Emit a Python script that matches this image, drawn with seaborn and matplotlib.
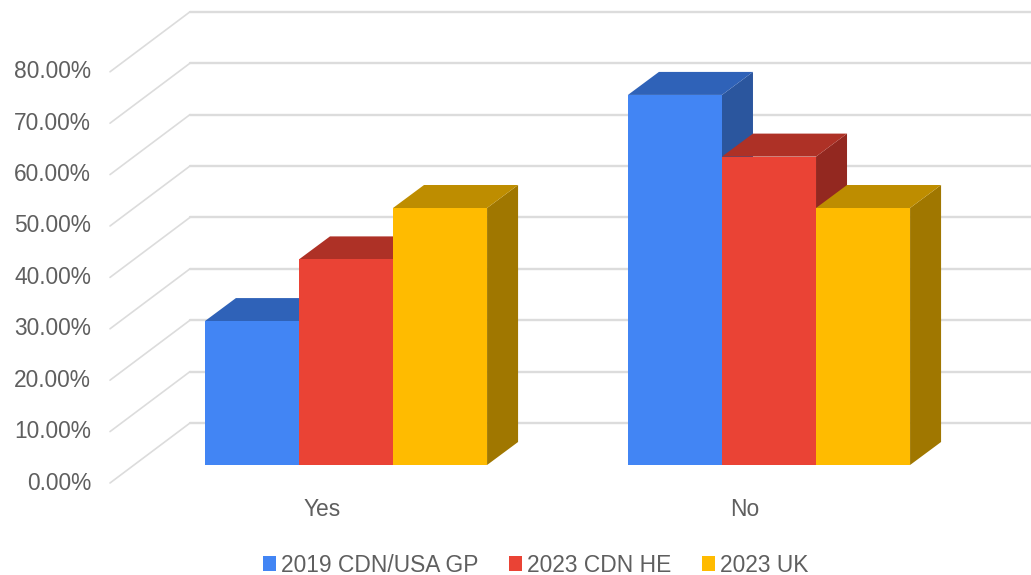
#!/usr/bin/env python3
"""
Yes/No survey bars with a fake 3D look
"""

import pandas as pd
import matplotlib
matplotlib.use('Agg')
import matplotlib.pyplot as plt
from matplotlib.patches import Polygon
import seaborn as sns

answers = ['Yes', 'No']
series_names = ['2019 CDN/USA GP', '2023 CDN HE', '2023 UK']
gp_2019 = [28, 72]
he_2023 = [40, 60]
uk_2023 = [50, 50]
tick_values = [0, 10, 20, 30, 40, 50, 60, 70, 80]

colors = ['#4285F4', '#EA4335', '#FFBB00']
top_colors = ['#2F62B8', '#AE3126', '#BE8D00']
side_colors = ['#2B569E', '#932820', '#A07700']
grid_color = '#DCDCDC'
text_color = '#5F5F5F'

# pixel layout of the picture
W, H = 1031, 575
PX_X = 423.0      # pixels per category
PX_Y = 5.14       # pixels per percent
X0 = 346.0        # centre of first group
Y0 = 465.0        # bar baseline
FONT = 16.4


def px_x(x):
    return (x - X0) / PX_X


def px_y(y):
    return (Y0 - y) / PX_Y


sns.set_theme(style='white')
plt.rcParams['font.family'] = ['Liberation Sans', 'DejaVu Sans']

df = pd.DataFrame({
    'answer': answers * 3,
    'series': [s for s in series_names for _ in answers],
    'value': gp_2019 + he_2023 + uk_2023,
})

fig = plt.figure(figsize=(W / 100, H / 100), dpi=100)
ax = fig.add_axes([0, 0, 1, 1])

sns.barplot(data=df, x='answer', y='value', hue='series', order=answers,
            hue_order=series_names, palette=colors, width=0.667, gap=0,
            saturation=1, linewidth=0, ax=ax, zorder=3)

ax.set_xlim(px_x(0), px_x(W))
ax.set_ylim(px_y(H), px_y(0))
ax.axis('off')

# wall and floor grid lines
wall_dy = px_y(423)
front_dy = px_y(483)
for v in tick_values:
    ax.plot([px_x(190), px_x(W)], [v + wall_dy, v + wall_dy],
            color=grid_color, lw=1.7, zorder=1)
    ax.plot([px_x(110), px_x(190)], [v + front_dy, v + wall_dy],
            color=grid_color, lw=1.2, zorder=1)
    ax.text(px_x(91), v + px_y(483), f'{v:.2f}%', ha='right', va='center',
            fontsize=FONT, color=text_color)

# depth faces, later series lie over the side of the one before
dx = 31 / PX_X
dy = 23 / PX_Y
bars = [p for p in ax.patches if p.get_height() > 0]
for i, bar in enumerate(bars):
    idx = i // len(answers)
    x1 = bar.get_x()
    x2 = x1 + bar.get_width()
    top = bar.get_height()
    ax.add_patch(Polygon([(x2, 0), (x2 + dx, dy), (x2 + dx, top + dy), (x2, top)],
                         closed=True, fc=side_colors[idx], lw=0, zorder=2 + idx * 0.1))
    ax.add_patch(Polygon([(x1, top), (x1 + dx, top + dy), (x2 + dx, top + dy), (x2, top)],
                         closed=True, fc=top_colors[idx], lw=0, zorder=2 + idx * 0.1 + 0.05))

# category labels sit a bit left of the group centres
for i, name in enumerate(answers):
    ax.text(i + px_x(322), px_y(510), name, ha='center', va='center',
            fontsize=FONT, color=text_color)

leg = ax.legend(loc='center', bbox_to_anchor=(535.5 / W, 1 - 565 / H), ncol=3, frameon=False,
                fontsize=FONT, handlelength=0.58, handleheight=0.58, handletextpad=0.2,
                columnspacing=1.35, borderpad=0, labelcolor=text_color)
for handle in leg.legend_handles:
    handle.set_linewidth(0)

plt.savefig('out.png', dpi=100)
